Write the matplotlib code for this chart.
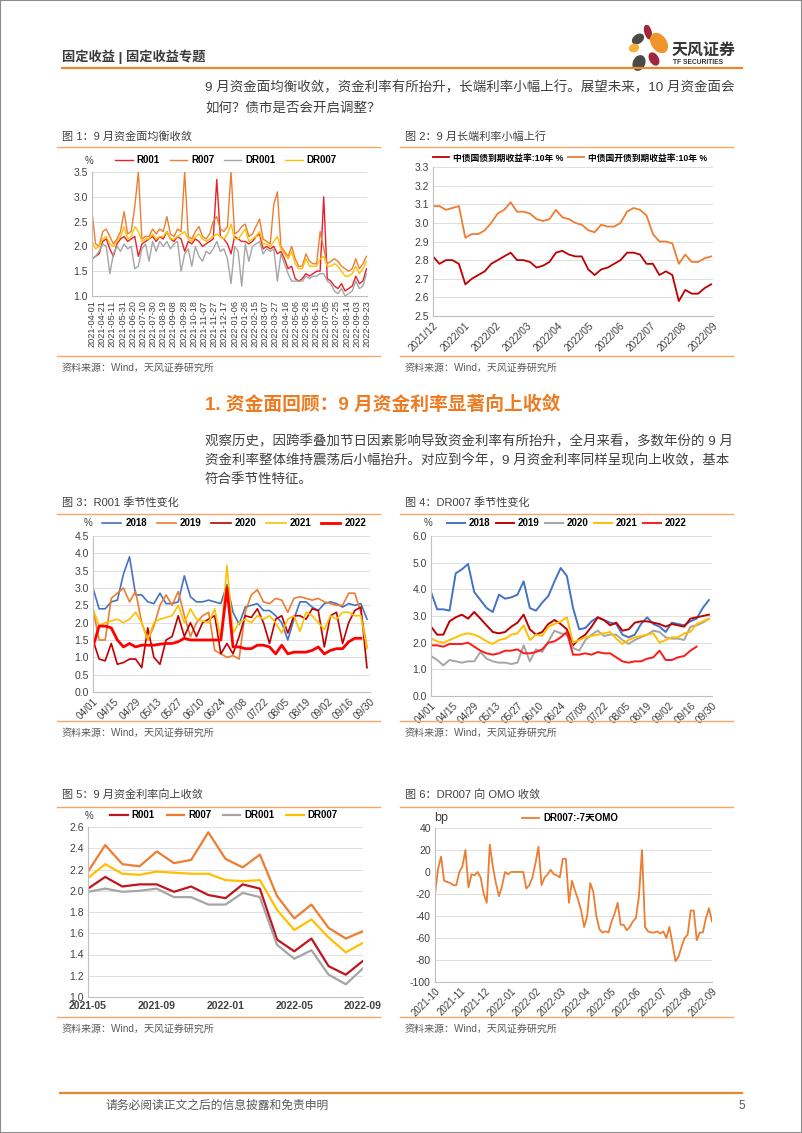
import matplotlib
matplotlib.use('Agg')
import matplotlib.pyplot as plt
import matplotlib.dates as mdates
from matplotlib.lines import Line2D
from matplotlib.patches import Ellipse, Rectangle
import numpy as np
import pandas as pd

plt.rcParams['font.family'] = ['Liberation Sans', 'Noto Sans CJK SC', 'DejaVu Sans']
plt.rcParams['axes.unicode_minus'] = False

# ---- chart 1: daily funding rates (weekly samples), 2021-04-01 .. 2022-09-22
c1_start = '2021-04-01'
c1_r001 = [1.75, 1.80, 1.85, 2.10, 2.15, 1.95, 1.80, 2.05, 2.15, 2.20,
           2.10, 2.15, 2.20, 1.80, 2.05, 2.10, 2.15, 2.20, 2.10, 2.20,
           2.15, 2.30, 2.15, 2.10, 2.20, 2.15, 1.90, 2.10, 2.05, 2.15,
           2.10, 2.00, 2.05, 2.10, 2.15, 3.35, 2.20, 2.15, 2.05, 1.85,
           2.20, 2.15, 2.10, 2.10, 2.05, 2.10, 2.20, 2.25, 1.95, 2.00,
           1.95, 2.00, 1.85, 1.90, 1.75, 1.55, 1.60, 1.35, 1.30, 1.35,
           1.45, 1.40, 1.45, 1.50, 1.50, 3.00, 1.35, 1.30, 1.20, 1.15,
           1.25, 1.10, 1.15, 1.20, 1.40, 1.25, 1.30, 1.55]
c1_r007 = [2.70, 2.05, 2.00, 2.30, 2.35, 2.20, 2.05, 2.15, 2.30, 2.70,
           2.25, 2.30, 2.80, 3.50, 2.15, 2.20, 2.20, 2.35, 2.25, 2.35,
           2.30, 2.60, 2.25, 2.20, 2.35, 2.30, 3.50, 2.20, 2.15, 2.30,
           2.40, 2.20, 2.15, 2.25, 2.50, 2.60, 2.35, 2.30, 2.40, 3.50,
           2.25, 2.30, 2.40, 2.45, 2.20, 2.25, 2.40, 2.55, 2.15, 2.10,
           2.05, 2.85, 3.10, 2.00, 1.90, 1.80, 2.00, 1.75, 1.60, 1.60,
           1.85, 1.70, 1.65, 1.65, 2.30, 1.95, 1.65, 1.70, 1.75, 1.70,
           1.60, 1.55, 1.50, 1.55, 1.75, 1.55, 1.65, 1.80]
c1_dr001 = [1.75, 1.80, 1.90, 2.05, 2.00, 1.45, 1.85, 2.00, 1.90, 2.05,
            1.95, 2.00, 1.55, 1.60, 1.95, 2.05, 1.70, 2.10, 1.90, 2.10,
            2.00, 2.10, 1.95, 2.05, 2.10, 1.50, 1.85, 1.95, 1.60, 2.00,
            1.80, 1.70, 1.90, 1.85, 1.95, 2.10, 1.90, 1.95, 1.75, 1.25,
            2.00, 1.90, 1.20, 2.05, 1.70, 2.00, 2.05, 2.10, 1.85, 1.95,
            1.90, 1.95, 1.30, 1.85, 1.65, 1.45, 1.30, 1.30, 1.30, 1.30,
            1.40, 1.35, 1.40, 1.40, 1.45, 1.45, 1.30, 1.25, 1.10, 1.05,
            1.15, 1.00, 1.05, 1.10, 1.30, 1.15, 1.20, 1.45]
c1_dr007 = [2.10, 1.95, 2.00, 2.15, 2.20, 2.05, 2.00, 2.10, 2.20, 2.40,
            2.15, 2.20, 2.40, 2.30, 2.10, 2.15, 2.15, 2.25, 2.15, 2.20,
            2.20, 2.30, 2.15, 2.15, 2.20, 2.25, 2.30, 2.15, 2.10, 2.20,
            2.25, 2.15, 2.10, 2.15, 2.20, 2.25, 2.20, 2.15, 2.25, 2.45,
            2.15, 2.15, 2.25, 2.35, 2.10, 2.15, 2.20, 2.30, 2.05, 2.05,
            2.00, 2.10, 2.20, 1.95, 1.85, 1.75, 1.90, 1.65, 1.55, 1.55,
            1.75, 1.60, 1.60, 1.60, 1.75, 1.80, 1.60, 1.60, 1.65, 1.60,
            1.50, 1.40, 1.40, 1.45, 1.60, 1.45, 1.55, 1.70]

# ---- chart 2: 10y yields (weekly samples)
c2_start = '2021-12-01'
c2_cgb = [2.82, 2.78, 2.80, 2.80, 2.78, 2.67, 2.70, 2.72, 2.74, 2.78,
          2.80, 2.82, 2.84, 2.80, 2.80, 2.79, 2.76, 2.77, 2.79, 2.84,
          2.85, 2.83, 2.82, 2.82, 2.75, 2.72, 2.75, 2.76, 2.78, 2.80,
          2.84, 2.84, 2.83, 2.78, 2.78, 2.72, 2.74, 2.72, 2.58, 2.64,
          2.62, 2.62, 2.65, 2.67]
c2_cdb = [3.09, 3.09, 3.07, 3.08, 3.09, 2.92, 2.94, 2.94, 2.96, 3.00,
          3.05, 3.07, 3.11, 3.06, 3.06, 3.05, 3.02, 3.01, 3.02, 3.07,
          3.03, 3.02, 3.00, 2.99, 2.96, 2.95, 2.99, 2.98, 2.98, 3.00,
          3.06, 3.08, 3.07, 3.04, 2.94, 2.90, 2.90, 2.89, 2.78, 2.83,
          2.79, 2.79, 2.81, 2.82]
c2_ticklabels = ['2021/12', '2022/01', '2022/02', '2022/03', '2022/04',
                 '2022/05', '2022/06', '2022/07', '2022/08', '2022/09']

# ---- chart 3: R001 seasonal (4-day samples from 04/01)
c3_2018 = [3.0, 2.4, 2.4, 2.6, 2.65, 3.4, 3.9, 2.8, 2.8, 2.6,
           2.55, 2.85, 2.55, 2.55, 2.6, 3.35, 2.75, 2.6, 2.6, 2.65,
           2.6, 2.55, 3.1, 2.3, 1.95, 2.45, 2.5, 2.55, 2.35, 2.35,
           2.2, 2.0, 1.5, 2.1, 2.6, 2.6, 2.45, 2.35, 2.55, 2.6,
           2.55, 2.45, 2.55, 2.5, 2.55, 2.1]
c3_2019 = [2.4, 1.5, 1.5, 2.7, 2.85, 3.0, 2.6, 2.9, 2.0, 1.5,
           1.9, 2.5, 2.8, 2.5, 2.9, 2.2, 1.6, 2.0, 2.2, 2.3,
           1.2, 1.1, 1.0, 1.05, 0.95, 2.3, 2.8, 2.95, 2.6, 2.55,
           2.7, 2.65, 2.3, 2.7, 2.75, 2.7, 2.65, 2.7, 2.6, 2.55,
           2.5, 2.5, 2.85, 2.85, 2.3, 1.3]
c3_2020 = [1.5, 0.95, 0.9, 1.4, 0.8, 0.85, 0.95, 0.95, 0.7, 1.85,
           1.0, 0.8, 1.5, 1.6, 2.2, 1.6, 2.0, 1.6, 2.0, 2.1,
           2.2, 1.1, 1.4, 1.1, 1.6, 2.2, 2.15, 2.4, 2.0, 1.4,
           2.1, 2.2, 1.7, 2.2, 2.2, 2.1, 2.4, 2.35, 1.3, 2.2,
           2.3, 1.4, 2.0, 2.35, 2.45, 0.7]
c3_2021 = [2.4, 1.9, 2.0, 2.05, 2.1, 2.0, 2.1, 2.3, 2.0, 1.5,
           2.0, 2.1, 2.15, 2.2, 2.5, 2.0, 2.4, 2.1, 2.05, 2.0,
           2.4, 1.5, 3.65, 1.7, 2.0, 2.1, 2.0, 2.2, 2.1, 2.2,
           2.0, 1.7, 2.1, 2.2, 1.75, 2.3, 2.2, 2.0, 1.8, 2.2,
           2.1, 2.3, 2.3, 2.2, 2.2, 1.25]
c3_2022 = [1.3, 1.9, 1.9, 1.85, 1.5, 1.3, 1.4, 1.3, 1.35, 1.35,
           1.35, 1.38, 1.4, 1.4, 1.45, 1.55, 1.5, 1.5, 1.5, 1.5,
           1.5, 1.5, 3.0, 1.3, 1.3, 1.25, 1.25, 1.35, 1.35, 1.3,
           1.1, 1.35, 1.1, 1.15, 1.15, 1.15, 1.2, 1.3, 1.1, 1.2,
           1.25, 1.25, 1.45, 1.55, 1.55]

# ---- chart 4: DR007 seasonal (4-day samples from 04/01)
c4_2018 = [3.9, 3.25, 3.25, 3.2, 4.6, 4.75, 4.95, 3.9, 3.6, 3.3,
           3.15, 3.8, 3.65, 3.7, 3.8, 4.3, 3.3, 3.2, 3.5, 3.75,
           4.3, 4.8, 4.5, 3.3, 2.5, 2.55, 2.8, 2.95, 2.85, 2.75,
           2.7, 2.3, 2.2, 2.3, 2.7, 2.95, 2.7, 2.6, 2.4, 2.75,
           2.7, 2.65, 2.8, 2.9, 3.3, 3.6]
c4_2019 = [2.6, 2.3, 2.3, 2.8, 2.95, 3.05, 2.9, 3.15, 2.9, 2.65,
           2.4, 2.35, 2.4, 2.6, 2.75, 3.05, 2.5, 2.3, 2.4, 2.7,
           2.85, 2.7, 2.5, 1.9, 2.15, 2.3, 2.6, 2.95, 2.85, 2.65,
           2.75, 2.45, 2.5, 2.75, 2.8, 2.8, 2.75, 2.7, 2.6, 2.7,
           2.65, 2.6, 2.9, 2.95, 3.0, 3.05]
c4_2020 = [1.5, 1.35, 1.15, 1.35, 1.3, 1.25, 1.3, 1.3, 1.65, 1.4,
           1.3, 1.25, 1.25, 1.2, 1.25, 1.9, 1.3, 1.75, 1.65, 2.05,
           2.45, 2.35, 2.3, 1.8, 1.7, 2.1, 2.3, 2.45, 2.25, 2.3,
           2.3, 2.1, 1.95, 2.1, 2.2, 2.3, 2.45, 2.4, 2.2, 2.15,
           2.15, 2.1, 2.6, 2.65, 2.75, 2.9]
c4_2021 = [2.15, 2.05, 2.0, 2.1, 2.2, 2.3, 2.35, 2.3, 2.2, 2.05,
           1.95, 2.1, 2.15, 2.3, 2.35, 2.65, 2.1, 2.3, 2.25, 2.6,
           2.7, 2.8, 2.95, 2.0, 2.1, 2.2, 2.25, 2.3, 2.35, 2.4,
           2.15, 1.95, 2.1, 2.2, 2.25, 2.3, 2.35, 2.0, 2.1, 2.2,
           2.2, 2.35, 2.4, 2.7, 2.8, 2.9]
c4_2022 = [1.9, 1.9, 1.85, 1.95, 1.95, 1.95, 2.0, 1.85, 1.7, 1.6,
           1.55, 1.6, 1.7, 1.7, 1.75, 1.6, 1.6, 1.65, 1.75, 2.0,
           2.05, 2.2, 2.4, 1.55, 1.55, 1.6, 1.55, 1.65, 1.6, 1.6,
           1.45, 1.3, 1.25, 1.3, 1.3, 1.4, 1.45, 1.7, 1.35, 1.35,
           1.45, 1.5, 1.7, 1.85]

# ---- chart 5: monthly averages
c5_months = ['2021-05', '2021-06', '2021-07', '2021-08', '2021-09', '2021-10',
             '2021-11', '2021-12', '2022-01', '2022-02', '2022-03', '2022-04',
             '2022-05', '2022-06', '2022-07', '2022-08', '2022-09']
c5_r001 = [2.02, 2.13, 2.04, 2.06, 2.06, 1.99, 2.04, 1.96, 1.93, 2.06, 2.02,
           1.54, 1.43, 1.55, 1.29, 1.21, 1.34]
c5_r007 = [2.18, 2.43, 2.25, 2.23, 2.37, 2.26, 2.29, 2.55, 2.30, 2.22, 2.34,
           1.95, 1.74, 1.87, 1.65, 1.55, 1.62]
c5_dr001 = [1.99, 2.02, 1.99, 2.00, 2.02, 1.94, 1.94, 1.87, 1.87, 1.98, 1.94,
            1.49, 1.36, 1.44, 1.21, 1.12, 1.27]
c5_dr007 = [2.12, 2.25, 2.16, 2.15, 2.18, 2.17, 2.16, 2.16, 2.10, 2.09, 2.10,
            1.82, 1.63, 1.73, 1.56, 1.42, 1.51]

# ---- chart 6: DR007 - 7d OMO, bp (4-day samples)
c6_start = '2021-10-01'
c6_spread = [-20, 3, 14, -8, -9, -10, -12, -12, 0, 5,
             20, -14, -2, -3, 0, -5, -20, -28, 25, 5,
             -10, -22, -13, 0, -2, 0, 0, 0, 0, 0,
             -15, -12, -5, 8, 23, -12, -5, -2, 2, -2,
             -3, -5, 12, 12, -28, -8, -17, -25, -35, -50,
             -40, -10, -18, -40, -52, -55, -54, -55, -45, -38,
             -28, -48, -48, -53, -50, -45, -42, -22, 20, -50,
             -54, -55, -55, -54, -56, -54, -60, -50, -65, -81,
             -77, -68, -60, -57, -35, -35, -62, -55, -55, -42,
             -33, -45]
c6_ticklabels = ['2021-10', '2021-11', '2021-12', '2022-01', '2022-02', '2022-03',
                 '2022-04', '2022-05', '2022-06', '2022-07', '2022-08', '2022-09']

RED = '#E8202A'
DARKRED = '#C00000'
ORANGE = '#ED7D31'
GRAY = '#A5A5A5'
GOLD = '#FFC000'
BLUE = '#4472C4'
LINE_OR = '#F3A865'
HEAD_OR = '#E8892B'
TXT = '#404040'

W, H = 802, 1133
fig = plt.figure(figsize=(W / 100, H / 100), dpi=100)


def fx(px):
    return px / W


def fy(py):
    return 1 - py / H


def add_ax(x0, y0, x1, y1):
    return fig.add_axes([fx(x0), fy(y1), (x1 - x0) / W, (y1 - y0) / H])


def hline(x0, x1, y, color, lw):
    fig.add_artist(Line2D([fx(x0), fx(x1)], [fy(y), fy(y)], color=color, lw=lw))


def panel(x0, x1, title, y_title, y_top, y_bot):
    fig.text(fx(x0 + 5), fy(y_title), title, fontsize=8, color=TXT, va='center')
    hline(x0, x1, y_top, LINE_OR, 1.0)
    hline(x0, x1, y_bot, LINE_OR, 1.0)
    fig.text(fx(x0 + 5), fy(y_bot + 12), '资料来源：Wind，天风证券研究所',
             fontsize=7.2, color='#595959', va='center')


def style(ax):
    for s in ['top', 'right']:
        ax.spines[s].set_visible(False)
    for s in ['left', 'bottom']:
        ax.spines[s].set_color('#BFBFBF')
        ax.spines[s].set_linewidth(0.8)
    ax.grid(axis='y', color='#D9D9D9', lw=0.6)
    ax.set_axisbelow(True)
    ax.tick_params(length=0, labelsize=7.5, colors=TXT, pad=3)


def legend(ax, cx, cy, ncol, colsp=1.0, hl=1.8, size=7):
    ax.legend(loc='center', bbox_to_anchor=(fx(cx), fy(cy)), bbox_transform=fig.transFigure,
              ncol=ncol, frameon=False, prop={'weight': 'bold', 'size': size},
              handlelength=hl, columnspacing=colsp, handletextpad=0.4, borderpad=0)


# ---------------- page decoration
fig.add_artist(Rectangle((0, 0), 1, 1, transform=fig.transFigure, fill=False,
                         edgecolor='#8C8C8C', lw=1.5))
fig.text(fx(62), fy(57), '固定收益 | 固定收益专题', fontsize=9.5, weight='bold',
         color='#3A3A3A', va='center')
hline(62, 742, 68, HEAD_OR, 1.6)

logo = add_ax(625, 25, 750, 75)
logo.set_xlim(625, 750)
logo.set_ylim(75, 25)
logo.axis('off')
petals = [((648, 32), 6, 14, -15, '#A3243B'),
          ((638, 39), 8, 12, 55, '#4A4A4A'),
          ((659, 43), 14, 21, -35, '#F0952A'),
          ((634, 48), 7, 9, 70, '#F5B335'),
          ((639, 63), 11, 15, 25, '#4A4A4A'),
          ((654, 59), 8, 13, -30, '#A3243B')]
for c, w, h, a, col in petals:
    logo.add_patch(Ellipse(c, w, h, angle=a, color=col))
logo.text(672, 50, '天风证券', fontsize=11.5, weight='bold', color='#333333', va='center')
logo.text(673, 63, 'TF SECURITIES', fontsize=4.8, weight='bold', color='#333333', va='center')

fig.text(fx(205), fy(88), '9 月资金面均衡收敛，资金利率有所抬升，长端利率小幅上行。展望未来，10 月资金面会',
         fontsize=9.7, color=TXT, va='center')
fig.text(fx(205), fy(108), '如何？债市是否会开启调整？', fontsize=9.7, color=TXT, va='center')

fig.text(fx(205), fy(405), '1. 资金面回顾：9 月资金利率显著向上收敛', fontsize=13.5,
         weight='bold', color='#EE7B22', va='center')
para = ['观察历史，因跨季叠加节日因素影响导致资金利率有所抬升，全月来看，多数年份的 9 月',
        '资金利率整体维持震荡后小幅抬升。对应到今年，9 月资金利率同样呈现向上收敛，基本',
        '符合季节性特征。']
for i, line in enumerate(para):
    fig.text(fx(205), fy(442 + 19 * i), line, fontsize=9.7, color=TXT, va='center')

hline(60, 742, 1093, HEAD_OR, 1.6)
fig.text(fx(105), fy(1106), '请务必阅读正文之后的信息披露和免责申明', fontsize=8.5,
         color='#595959', va='center')
fig.text(fx(738), fy(1106), '5', fontsize=8.5, color='#595959', va='center')

# ---------------- chart 1
panel(57, 380, '图 1：9 月资金面均衡收敛', 137, 147, 356)
ax1 = add_ax(92, 172, 367, 296)
style(ax1)
d1 = pd.date_range(c1_start, periods=len(c1_r001), freq='7D')
ax1.plot(d1, c1_r001, color=RED, lw=1.0, label='R001')
ax1.plot(d1, c1_r007, color=ORANGE, lw=1.0, label='R007')
ax1.plot(d1, c1_dr001, color=GRAY, lw=1.0, label='DR001')
ax1.plot(d1, c1_dr007, color=GOLD, lw=1.0, label='DR007')
ax1.set_ylim(1.0, 3.5)
ax1.set_yticks(np.arange(1.0, 3.51, 0.5))
ax1.yaxis.set_major_formatter(plt.FormatStrFormatter('%.1f'))
ax1.set_xlim(pd.Timestamp(c1_start), pd.Timestamp('2022-09-23'))
t1 = pd.date_range(c1_start, '2022-09-23', freq='20D')
ax1.set_xticks(t1)
ax1.set_xticklabels([t.strftime('%Y-%m-%d') for t in t1], rotation=90, fontsize=6.6)
legend(ax1, 226, 160, 4, colsp=1.0)
fig.text(fx(89), fy(161), '%', fontsize=7, color=TXT, va='center', ha='center')

# ---------------- chart 2
panel(400, 733, '图 2：9 月长端利率小幅上行', 137, 147, 356)
ax2 = add_ax(433, 167, 713, 316)
style(ax2)
d2 = pd.date_range(c2_start, periods=len(c2_cgb), freq='7D')
ax2.plot(d2, c2_cgb, color=DARKRED, lw=1.3, label='中债国债到期收益率:10年 %')
ax2.plot(d2, c2_cdb, color=ORANGE, lw=1.3, label='中债国开债到期收益率:10年 %')
ax2.set_ylim(2.5, 3.3)
ax2.set_yticks(np.arange(2.5, 3.31, 0.1))
ax2.yaxis.set_major_formatter(plt.FormatStrFormatter('%.1f'))
x2a, x2b = mdates.date2num(pd.Timestamp(c2_start)), mdates.date2num(pd.Timestamp('2022-09-30'))
ax2.set_xlim(x2a, x2b)
ax2.set_xticks(np.linspace(x2a, x2b, len(c2_ticklabels)))
ax2.set_xticklabels(c2_ticklabels, rotation=45, ha='right', rotation_mode='anchor', fontsize=7.2)
legend(ax2, 570, 158, 2, colsp=0.6, hl=1.8, size=6.3)

# ---------------- chart 3
panel(57, 380, '图 3：R001 季节性变化', 503, 514, 721)
ax3 = add_ax(93, 536, 370, 692)
style(ax3)
d3 = pd.date_range('2022-04-01', periods=len(c3_2018), freq='4D')
for vals, col, lw, yr in [(c3_2018, BLUE, 1.2, '2018'), (c3_2019, ORANGE, 1.2, '2019'),
                          (c3_2020, DARKRED, 1.2, '2020'), (c3_2021, GOLD, 1.2, '2021'),
                          (c3_2022, '#FF0000', 2.0, '2022')]:
    ax3.plot(d3[:len(vals)], vals, color=col, lw=lw, label=yr)
ax3.set_ylim(0, 4.5)
ax3.set_yticks(np.arange(0, 4.51, 0.5))
ax3.yaxis.set_major_formatter(plt.FormatStrFormatter('%.1f'))
ax3.set_xlim(pd.Timestamp('2022-04-01'), pd.Timestamp('2022-09-30'))
t3 = pd.date_range('2022-04-01', '2022-09-30', freq='14D')
ax3.set_xticks(t3)
ax3.set_xticklabels([t.strftime('%m/%d') for t in t3], rotation=45, ha='right',
                    rotation_mode='anchor', fontsize=7.2)
legend(ax3, 234, 523, 5, colsp=1.0, hl=2.0)
fig.text(fx(88), fy(523), '%', fontsize=7, color=TXT, va='center', ha='center')

# ---------------- chart 4
panel(400, 733, '图 4：DR007 季节性变化', 503, 514, 721)
ax4 = add_ax(431, 536, 712, 696)
style(ax4)
for vals, col, lw, yr in [(c4_2018, BLUE, 1.4, '2018'), (c4_2019, DARKRED, 1.4, '2019'),
                          (c4_2020, GRAY, 1.4, '2020'), (c4_2021, GOLD, 1.4, '2021'),
                          (c4_2022, '#FF1A1A', 1.4, '2022')]:
    ax4.plot(d3[:len(vals)], vals, color=col, lw=lw, label=yr)
ax4.set_ylim(0, 6)
ax4.set_yticks(np.arange(0, 6.01, 1.0))
ax4.yaxis.set_major_formatter(plt.FormatStrFormatter('%.1f'))
ax4.set_xlim(pd.Timestamp('2022-04-01'), pd.Timestamp('2022-09-30'))
ax4.set_xticks(t3)
ax4.set_xticklabels([t.strftime('%m/%d') for t in t3], rotation=45, ha='right',
                    rotation_mode='anchor', fontsize=7.2)
legend(ax4, 567, 523, 5, colsp=0.6, hl=1.8)
fig.text(fx(428), fy(523), '%', fontsize=7, color=TXT, va='center', ha='center')

# ---------------- chart 5
panel(57, 380, '图 5：9 月资金利率向上收敛', 795, 807, 1017)
ax5 = add_ax(88, 827, 363, 997)
style(ax5)
x5 = np.arange(len(c5_months))
ax5.plot(x5, c5_r001, color='#C0151F', lw=1.6, label='R001')
ax5.plot(x5, c5_r007, color=ORANGE, lw=1.6, label='R007')
ax5.plot(x5, c5_dr001, color=GRAY, lw=1.6, label='DR001')
ax5.plot(x5, c5_dr007, color=GOLD, lw=1.6, label='DR007')
ax5.set_ylim(1.0, 2.6)
ax5.set_yticks(np.arange(1.0, 2.61, 0.2))
ax5.yaxis.set_major_formatter(plt.FormatStrFormatter('%.1f'))
ax5.set_xlim(0, len(c5_months) - 1)
ax5.set_xticks(x5[::4])
ax5.set_xticklabels(c5_months[::4], fontsize=7.5, weight='bold')
legend(ax5, 224, 815, 4, colsp=1.2)
fig.text(fx(89), fy(816), '%', fontsize=7, color=TXT, va='center', ha='center')

# ---------------- chart 6
panel(400, 733, '图 6：DR007 向 OMO 收敛', 795, 807, 1017)
ax6 = add_ax(435, 828, 712, 982)
style(ax6)
d6 = pd.date_range(c6_start, periods=len(c6_spread), freq='4D')
ax6.plot(d6, c6_spread, color=ORANGE, lw=1.3, label='DR007:-7天OMO')
ax6.set_ylim(-100, 40)
ax6.set_yticks(np.arange(-100, 41, 20))
x6a, x6b = mdates.date2num(pd.Timestamp(c6_start)), mdates.date2num(pd.Timestamp('2022-09-30'))
ax6.set_xlim(x6a, x6b)
ax6.set_xticks(np.linspace(x6a, x6b, len(c6_ticklabels)))
ax6.set_xticklabels(c6_ticklabels, rotation=45, ha='right', rotation_mode='anchor', fontsize=7)
legend(ax6, 570, 818, 1)
fig.text(fx(441), fy(818), 'bp', fontsize=9, color=TXT, va='center', ha='center')

fig.savefig('out.png', dpi=100)
